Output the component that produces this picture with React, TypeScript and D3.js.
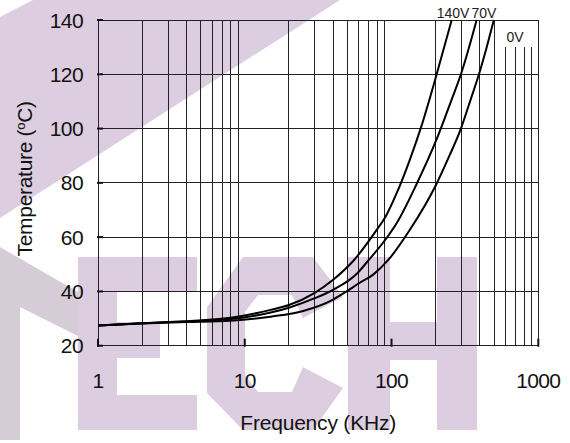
import React from "react";
import * as d3 from "d3";

// ---- data ----
const freqTicks = [1, 10, 100, 1000];
const tempTicks = [20, 40, 60, 80, 100, 120, 140];

const freq0V = [1, 2, 4, 8, 15, 25, 40, 50, 60, 75, 95, 133, 202, 248, 297, 345, 394, 445, 498];
const temp0V = [27.4, 28.2, 28.7, 29.2, 30.7, 32.8, 37.0, 40.2, 43, 46.2, 51.6, 62.6, 79.5, 90, 100, 110.5, 120, 130, 140];

const freq70V = [1, 2, 4, 8, 15, 20, 30, 40, 58, 70, 95, 108, 148, 202, 256, 297, 380];
const temp70V = [27.4, 28.3, 28.9, 29.8, 32.2, 34.0, 37.5, 40.6, 46.5, 51.6, 60.5, 65, 79.5, 95.8, 110.5, 120, 140];

const freq140V = [1, 2, 4, 8, 15, 20, 30, 40, 55, 79, 91, 108, 133, 160, 203, 257];
const temp140V = [27.4, 28.3, 29.0, 30.3, 33.2, 35.0, 39.5, 44.3, 51.3, 62.6, 67.5, 76, 88.4, 101, 120, 140];

const seriesNames = ["140V", "70V", "0V"];

export default function App() {
  const W = 570, H = 443;
  const x = d3.scaleLog().domain([1, 1000]).range([98, 538.3]);
  const y = d3.scaleLinear().domain([20, 140]).range([345.7, 20]);
  const [x0, x1] = x.range();
  const [y0, y1] = y.range();

  const minor: number[] = [];
  for (let dec = 1; dec < 1000; dec *= 10) {
    for (let k = 2; k <= 9; k++) minor.push(dec * k);
  }

  const line = d3
    .line<[number, number]>()
    .x((d) => x(d[0]))
    .y((d) => y(d[1]))
    .curve(d3.curveMonotoneX);

  const series = [
    { name: seriesNames[2], f: freq0V, t: temp0V },
    { name: seriesNames[1], f: freq70V, t: temp70V },
    { name: seriesNames[0], f: freq140V, t: temp140V },
  ];

  const lav = "#dccee0";
  const lavGray = "#d5ccd8";
  const font = "'Liberation Sans', Arial, sans-serif";
  const grid = "#222";

  return (
    <svg
      width={W}
      height={H}
      style={{ position: "absolute", left: 0, top: 0, background: "#fff" }}
      fontFamily={font}
    >
      <rect x={0} y={0} width={W} height={H} fill="#fff" />
      {/* watermark */}
      <g>
        <polygon points="33,0 340,0 0,218 0,17" fill={lav} />
        <polygon points="0,247 78,292 78,336 20,307 20,440 0,440" fill={lavGray} />
        {/* E */}
        <polygon points="78,257 197,257 197,292 117,292 117,322 160,322 160,358 117,358 117,395 197,395 197,430 78,430" fill={lav} />
        {/* C */}
        <polygon points="243,257 313,257 343,297 303,318 292,295 258,295 245,312 245,375 258,392 292,392 303,367 343,388 313,430 243,430 207,393 207,307" fill={lav} />
        {/* H */}
        <polygon points="348,257 390,257 390,322 437,322 437,257 477,257 477,430 437,430 437,360 390,360 390,430 348,430" fill={lav} />
      </g>

      {/* grid */}
      <g stroke={grid} strokeWidth={1} shapeRendering="crispEdges">
        {minor.map((m) => (
          <line key={"v" + m} x1={x(m)} x2={x(m)} y1={y1} y2={y0} />
        ))}
        {tempTicks.slice(1, -1).map((t) => (
          <line key={"h" + t} x1={x0} x2={x1} y1={y(t)} y2={y(t)} />
        ))}
        <rect x={x0} y={y1} width={x1 - x0} height={y0 - y1} fill="none" />
      </g>
      {/* ticks */}
      <g stroke="#111" strokeWidth={2}>
        {tempTicks.map((t) => (
          <line key={"yt" + t} x1={x0 - 1} x2={x0 + 5} y1={y(t)} y2={y(t)} />
        ))}
        {freqTicks.map((f) => (
          <line key={"xt" + f} x1={x(f)} x2={x(f)} y1={y0 - 7} y2={y0 + 1} />
        ))}
      </g>

      {/* white box behind 0V label */}
      <rect x={505} y={21} width={32.5} height={26} fill="#fff" />

      {/* curves */}
      <g fill="none" stroke="#000" strokeWidth={2} strokeLinejoin="round">
        {series.map((s) => (
          <path key={s.name} d={line(s.f.map((f, i) => [f, s.t[i]] as [number, number])) || ""} />
        ))}
      </g>

      {/* series labels */}
      <g fontSize={14} fill="#222">
        <text x={436.7} y={18}>{seriesNames[0]}</text>
        <text x={471.5} y={18}>{seriesNames[1]}</text>
        <text x={506.5} y={42}>{seriesNames[2]}</text>
      </g>

      {/* y tick labels */}
      <g fontSize={21} fill="#111" textAnchor="end" letterSpacing={-0.6}>
        {tempTicks.map((t) => (
          <text key={"yl" + t} x={83} y={y(t)} dy="0.36em">
            {t}
          </text>
        ))}
      </g>
      {/* x tick labels */}
      <g fontSize={21} fill="#111" textAnchor="middle" letterSpacing={-0.6}>
        {freqTicks.map((f) => (
          <text key={"xl" + f} x={x(f)} y={388}>
            {f}
          </text>
        ))}
      </g>

      {/* axis titles */}
      <text x={(x0 + x1) / 2} y={430} fontSize={21} fill="#111" textAnchor="middle" letterSpacing={-0.2}>
        Frequency (KHz)
      </text>
      <text
        transform={`translate(32,${(y0 + y1) / 2 - 4}) rotate(-90)`}
        fontSize={21}
        fill="#111"
        textAnchor="middle"
        letterSpacing={-0.3}
      >
        Temperature (
        <tspan fontSize={13} dy={-7}>o</tspan>
        <tspan dy={7}>C)</tspan>
      </text>
    </svg>
  );
}
